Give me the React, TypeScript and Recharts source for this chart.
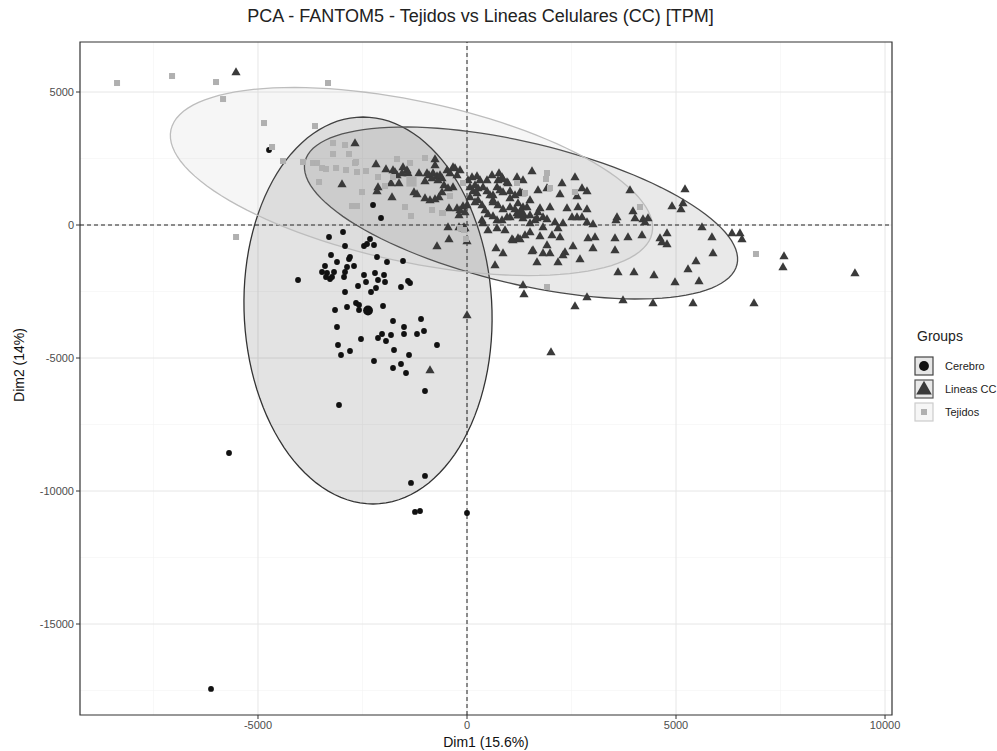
import {
  ScatterChart,
  Scatter,
  XAxis,
  YAxis,
  CartesianGrid,
  ReferenceLine,
  ReferenceArea
} from 'recharts'

type Pt = [number, number]

const title = 'PCA - FANTOM5 - Tejidos vs Lineas Celulares (CC) [TPM]'
const xTitle = 'Dim1 (15.6%)'
const yTitle = 'Dim2 (14%)'

const xTicks = [-5000, 0, 5000, 10000]
const yTicks = [5000, 0, -5000, -10000, -15000]
const xMinor = [-7500, -2500, 2500, 7500]
const yMinor = [2500, -2500, -7500, -12500, -17500]
const xDomain: Pt = [-9258, 10167]
const yDomain: Pt = [-18421, 6880]

const cerebro: Pt[] = [
  [-3301, -451], [-2966, -263], [-2918, -789], [-2464, -789], [-2392, -714], [-2320, -526], [-2225, -752],
  [-3253, -1128], [-2799, -1203], [-2823, -1278], [-2153, -1203], [-1914, -1391], [-1531, -1353], [-3110, -1391],
  [-3397, -1541], [-3468, -1767], [-3349, -1804], [-3277, -2030], [-3181, -1767], [-3373, -1955], [-3229, -1955],
  [-2870, -1579], [-2918, -1767], [-2942, -1955], [-2703, -1541], [-4042, -2067], [-2464, -1880], [-2201, -1804],
  [-1985, -1880], [-2129, -2067], [-2416, -2143], [-2607, -2293], [-1961, -2143], [-1579, -2331], [-1411, -2105],
  [-1363, -2180], [-2177, -2368], [-2296, -2519], [-2918, -2519], [-2655, -2932], [-2583, -3007], [-2583, -3195],
  [-2870, -3082], [-3157, -3195], [-2009, -3045], [-1770, -3609], [-1100, -3533], [-1507, -3834], [-1029, -3985],
  [-1196, -4097], [-1507, -4097], [-1818, -4135], [-2033, -4097], [-2129, -4248], [-1938, -4360], [-2536, -4285],
  [-3110, -3834], [-3086, -4511], [-3014, -4887], [-2799, -4736], [-718, -4511], [-1746, -4699], [-1387, -4887],
  [-1579, -5225], [-1770, -5375], [-1459, -5563], [-2225, -5112], [-1005, -6240], [-3062, -6766], [-1340, -9698],
  [-1005, -9435], [-1244, -10788], [-1124, -10751], [0, -10826], [-5693, -8571], [-6124, -17442], [-4736, 2819],
  [-2248, 752], [-2057, 263]
]

const lineas: Pt[] = [
  [-5526, 5751], [-2679, 3082], [-2177, 2293], [-1938, 2105], [-2990, 1541], [-1818, 1579], [-1627, 1579],
  [-2129, 1428], [-2153, 1278], [-1722, 1992], [-1674, 1880], [-1531, 2180], [-1435, 2067], [-1411, 1955],
  [-1555, 1955], [-1148, 1955], [-1794, 1053], [-1268, 1240], [-1196, 1165], [-1005, 1654], [-909, 1880],
  [-813, 1955], [-718, 1842], [-837, 1767], [-694, 1692], [-598, 1767], [-765, 2481], [-765, 2255],
  [-478, 2067], [-407, 1955], [-287, 2143], [-239, 1880], [-167, 2067], [-550, 1504], [-454, 1391],
  [-335, 1428], [-598, 1240], [-1005, 1015], [-885, 940], [-765, 977], [-670, 1053], [-431, 639],
  [-239, 639], [-167, 564], [-96, 714], [-48, 489], [-191, 376], [72, 1428], [144, 1278], [191, 1504],
  [239, 1203], [263, 1391], [24, 1692], [120, 1804], [239, 1842], [311, 1692], [383, 1428], [478, 1278],
  [550, 1128], [622, 940], [263, 940], [359, 752], [431, 564], [502, 413], [359, 188], [478, 1692],
  [598, 1880], [765, 1955], [861, 1729], [981, 1579], [742, 1692], [718, 1428], [861, 1240], [1029, 1278],
  [1148, 1128], [1268, 1240], [622, 865], [742, 752], [861, 601], [1029, 677], [1220, 827], [1340, 677],
  [622, 338], [718, 188], [957, 301], [1196, 451], [1340, 263], [1507, 376], [1698, 489], [1818, 301],
  [1627, 188], [72, 1053], [191, 865], [0, 752], [-454, -75], [-191, -75], [-48, -113], [-431, -526],
  [-718, -789], [502, -188], [718, -113], [909, -188], [1100, -564], [1220, -489], [1387, -376], [1507, -263],
  [1746, -413], [1818, -75], [1507, 75], [694, -865], [861, -1053], [1555, -977], [1818, -1053], [1555, 2030],
  [1698, 1316], [1196, 1804], [1340, 1692], [-335, 2180], [837, 1804], [957, 1616], [2273, 1579], [2583, 1804],
  [2751, 1391], [2870, 1278], [1914, 1391], [1316, 1203], [1029, 1015], [1507, 940], [789, 1316], [622, 1128],
  [2225, 1165], [2631, 1090], [3899, 1316], [5215, 1353], [5167, 827], [5119, 601], [4904, 714], [3971, 526],
  [4019, 263], [3588, 301], [3564, 188], [4210, 226], [4330, 263], [4258, 113], [2392, 639], [2655, 677],
  [2870, 601], [1985, 677], [1746, 639], [1435, 677], [1148, 601], [2631, 301], [2512, 301], [2751, 301],
  [2870, 113], [3014, 38], [1674, 263], [1914, 226], [2105, 113], [2296, 75], [1029, 301], [837, 188],
  [383, 75], [-72, -75], [2033, -376], [2177, -113], [0, -601], [1076, -526], [1268, -526], [2225, -451],
  [1579, -940], [1914, -752], [1985, -1053], [2344, -1015], [2296, -1128], [2536, -789], [3014, -865],
  [3540, -940], [2894, -489], [3062, -451], [3540, -489], [3851, -451], [4186, -376], [4617, -489],
  [4784, -301], [4664, -639], [4784, -714], [5621, -75], [5860, -451], [6339, -301], [6530, -301],
  [6578, -526], [5884, -1053], [5478, -1353], [5287, -1654], [5550, -2105], [670, -1504], [1674, -1391],
  [2177, -1391], [2703, -1278], [1340, -2255], [1363, -2594], [2870, -2706], [3732, -2819], [2583, -3045],
  [4449, -2932], [5406, -2932], [6865, -2932], [3612, -1767], [3995, -1767], [4473, -1880], [4976, -2143],
  [7583, -1165], [7559, -1579], [9281, -1804], [2009, -4774], [0, -3383], [-885, -5451], [-1770, 2067],
  [-96, -113], [-957, 1955], [-646, 1880]
]

const tejidos: Pt[] = [
  [-8372, 5338], [-7056, 5601], [-6004, 5375], [-3325, 5338], [-5836, 4736], [-4856, 3834], [-3636, 3721],
  [-4664, 2932], [-4401, 2406], [-3923, 2368], [-3684, 2331], [-3588, 2331], [-3468, 2143], [-3373, 2105],
  [-3133, 2143], [-3205, 3082], [-2918, 3007], [-3205, 2669], [-2823, 2669], [-2679, 2331], [-2631, 1992],
  [-2416, 2030], [-2894, 2067], [-2512, 1240], [-1674, 2481], [-1363, 2331], [-1005, 2519], [-1770, 1804],
  [-1961, 1466], [-2129, 1804], [-2751, 714], [-2631, 714], [-1483, 677], [-1340, 338], [-837, 564],
  [-598, 451], [-407, 1090], [-167, -113], [-24, -526], [-5525, -451], [-3540, 1616], [1914, 1955],
  [1890, 1729], [1985, 1391], [1196, 1579], [1387, 1203], [2583, 1240], [4138, 677], [-72, -188],
  [-574, 451], [1914, -2331], [6913, -1090], [-96, 1579], [-2655, 2368]
]

// ellipse = centre (also the group mean) + two conjugate semi-axes, in data units
const cerebroEllipse = { cx: -2368, cy: -3214, ux: 2966, uy: 0, vx: -120, vy: 7274 }
const lineasEllipse = { cx: 1292, cy: 451, ux: 5167, uy: -1936, vx: -392, vy: -2590 }
const tejidosEllipse = { cx: -1328, cy: 1635, ux: 5755, uy: -1940, vx: -403, vy: -2955 }

const groups = [
  { name: 'Cerebro', pts: cerebro, ell: cerebroEllipse, mark: 'circle', color: '#111111', edge: '#333333', fill: '#000000', keyEdge: '#444444', keyFill: '#e6e6e6' },
  { name: 'Lineas CC', pts: lineas, ell: lineasEllipse, mark: 'triangle', color: '#3a3a3a', edge: '#4a4a4a', fill: '#333333', keyEdge: '#555555', keyFill: '#e9e9e9' },
  { name: 'Tejidos', pts: tejidos, ell: tejidosEllipse, mark: 'square', color: '#b0b0b0', edge: '#bdbdbd', fill: '#aaaaaa', keyEdge: '#cccccc', keyFill: '#f6f6f6' }
]

const toRows = (pts: Pt[]) => pts.map(([x, y]) => ({ x, y }))

const outline = (e: typeof cerebroEllipse) => {
  const rows = []
  for (let i = 0; i <= 120; i++) {
    const t = (i / 120) * Math.PI * 2
    rows.push({ x: e.cx + e.ux * Math.cos(t) + e.vx * Math.sin(t), y: e.cy + e.uy * Math.cos(t) + e.vy * Math.sin(t) })
  }
  return rows
}

function Mark({ cx, cy, mark, color, big }: any) {
  const s = big ? 1.7 : 1
  if (mark === 'circle') return <circle cx={cx} cy={cy} r={2.9 * s} fill={color} />
  if (mark === 'triangle')
    return <path d={`M${cx},${cy - 4.8 * s}L${cx + 4.6 * s},${cy + 3.3 * s}L${cx - 4.6 * s},${cy + 3.3 * s}Z`} fill={color} />
  return <rect x={cx - 3 * s} y={cy - 3 * s} width={6 * s} height={6 * s} fill={color} />
}

const font = '"Liberation Sans", Arial, sans-serif'
const tickStyle = { fill: '#4d4d4d', fontSize: 11, fontFamily: font }

export default function App() {
  return (
    <div style={{ position: 'relative', width: 997, height: 751, overflow: 'hidden', background: '#fff', fontFamily: font }}>
      <style>{'body{margin:0;overflow:hidden}'}</style>
      <div style={{ position: 'absolute', left: 0, width: 961, top: 6, textAlign: 'center', fontSize: 18, color: '#222' }}>
        {title}
      </div>
      <ScatterChart width={997} height={751} margin={{ top: 42, right: 105, left: 10, bottom: 0 }}>
        <CartesianGrid stroke="#f3f3f3" strokeWidth={0.6} verticalValues={xMinor} horizontalValues={yMinor} />
        <CartesianGrid stroke="#e6e6e6" strokeWidth={1} verticalValues={xTicks} horizontalValues={yTicks} />
        <XAxis
          type="number"
          dataKey="x"
          domain={xDomain}
          ticks={xTicks}
          allowDataOverflow
          height={36}
          axisLine={false}
          tickLine={{ stroke: '#333' }}
          tickSize={4}
          tick={tickStyle}
          label={{
            content: () => (
              <text x={486} y={747} textAnchor="middle" fill="#111" fontSize={14} fontFamily={font}>
                {xTitle}
              </text>
            )
          }}
        />
        <YAxis
          type="number"
          dataKey="y"
          domain={yDomain}
          ticks={yTicks}
          allowDataOverflow
          width={70}
          axisLine={false}
          tickLine={{ stroke: '#333' }}
          tickSize={4}
          tick={tickStyle}
          label={{
            content: () => (
              <text x={24} y={365} transform="rotate(-90 24 365)" textAnchor="middle" fill="#111" fontSize={14} fontFamily={font}>
                {yTitle}
              </text>
            )
          }}
        />
        {groups.map((g) => (
          <Scatter
            key={g.name + '-ell'}
            data={outline(g.ell)}
            isAnimationActive={false}
            shape={() => <g />}
            line={(p: any) => (
              <path
                d={p.points.map((q: any, i: number) => `${i ? 'L' : 'M'}${q.x},${q.y}`).join('') + 'Z'}
                fill={g.fill}
                fillOpacity={0.11}
                stroke={g.edge}
                strokeWidth={1.3}
              />
            )}
          />
        ))}
        <ReferenceLine x={0} stroke="#222" strokeDasharray="4 3" />
        <ReferenceLine y={0} stroke="#222" strokeDasharray="4 3" />
        {groups.map((g) => (
          <Scatter
            key={g.name}
            data={toRows(g.pts)}
            isAnimationActive={false}
            shape={(p: any) => <Mark cx={p.cx} cy={p.cy} mark={g.mark} color={g.color} />}
          />
        ))}
        {groups.map((g) => (
          <Scatter
            key={g.name + '-mean'}
            data={[{ x: g.ell.cx, y: g.ell.cy }]}
            isAnimationActive={false}
            shape={(p: any) => <Mark cx={p.cx} cy={p.cy} mark={g.mark} color={g.color} big />}
          />
        ))}
        <ReferenceArea x1={xDomain[0]} x2={xDomain[1]} y1={yDomain[0]} y2={yDomain[1]} fill="none" stroke="#333" strokeWidth={1.2} />
      </ScatterChart>
      <div style={{ position: 'absolute', left: 917, top: 328, fontSize: 14, color: '#222' }}>Groups</div>
      {groups.map((g, i) => (
        <div key={g.name} style={{ position: 'absolute', left: 914, top: 356 + i * 23, display: 'flex', alignItems: 'center', whiteSpace: 'nowrap' }}>
          <svg width={20} height={20}>
            <rect x={1} y={1} width={18} height={18} fill={g.keyFill} stroke={g.keyEdge} strokeWidth={1.2} />
            <Mark cx={10} cy={10} mark={g.mark} color={g.color} big={g.mark !== 'square'} />
          </svg>
          <span style={{ marginLeft: 11, fontSize: 11, color: '#222' }}>{g.name}</span>
        </div>
      ))}
    </div>
  )
}
